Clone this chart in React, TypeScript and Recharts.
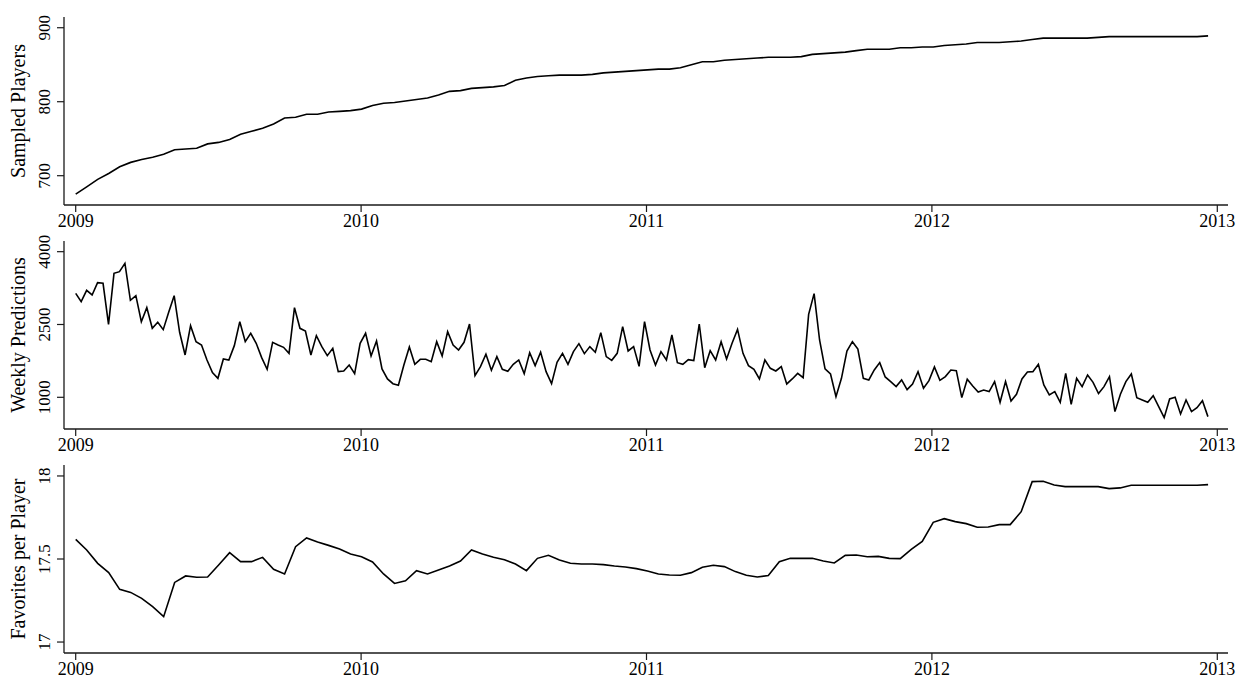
import React from "react";
import { Line, LineChart, XAxis, YAxis } from "recharts";

const FONT = "'Liberation Serif', 'Times New Roman', serif";
const START_YEAR = 2009;
const YEAR_TICKS = [2009, 2010, 2011, 2012, 2013];
// Slow series are sampled roughly every other week, ending in the last week of 2012.
const TWO_WEEKS = 14.07;

// Players in the sample, read every second week from the start of 2009.
const sampledPlayers = [
  675, 685, 695, 703, 712, 718, 722, 725, 729, 735, 736, 737, 743, 745, 749, 756,
  760, 764, 770, 778, 779, 783, 783, 786, 787, 788, 790, 795, 798, 799, 801, 803,
  805, 809, 814, 815, 818, 819, 820, 822, 829, 832, 834, 835, 836, 836, 836, 837,
  839, 840, 841, 842, 843, 844, 844, 846, 850, 854, 854, 856, 857, 858, 859, 860,
  860, 860, 861, 864, 865, 866, 867, 869, 871, 871, 871, 873, 873, 874, 874, 876,
  877, 878, 880, 880, 880, 881, 882, 884, 886, 886, 886, 886, 886, 887, 888, 888,
  888, 888, 888, 888, 888, 888, 888, 889,
];

// Predictions submitted per week.
const weeklyPredictions = [
  3142, 2970, 3204, 3108, 3362, 3348, 2503, 3554, 3588, 3760,
  2998, 3094, 2558, 2847, 2421, 2545, 2394, 2750, 3094, 2339,
  1872, 2476, 2146, 2078, 1769, 1508, 1391, 1789, 1769, 2064,
  2558, 2146, 2318, 2112, 1817, 1577, 2133, 2078, 2030, 1906,
  2847, 2421, 2366, 1872, 2270, 2044, 1858, 2009, 1529, 1542,
  1666, 1487, 2112, 2318, 1851, 2160, 1584, 1378, 1281, 1247,
  1666, 2037, 1680, 1783, 1783, 1735, 2146, 1851, 2352, 2078,
  1975, 2133, 2510, 1446, 1632, 1886, 1556, 1838, 1577, 1535,
  1680, 1769, 1487, 1920, 1652, 1927, 1529, 1281, 1721, 1906,
  1680, 1941, 2105, 1899, 2044, 1927, 2332, 1838, 1762, 1906,
  2455, 1954, 2044, 1638, 2558, 1975, 1666, 1941, 1769, 2284,
  1714, 1680, 1776, 1755, 2510, 1611, 1961, 1769, 2146, 1789,
  2112, 2400, 1906, 1652, 1577, 1378, 1769, 1597, 1542, 1632,
  1275, 1378, 1494, 1405, 2709, 3135, 2181, 1584, 1481, 1014,
  1391, 1954, 2146, 1995, 1391, 1357, 1563, 1714, 1419, 1323,
  1220, 1357, 1158, 1275, 1529, 1185, 1343, 1625, 1350, 1426,
  1563, 1549, 993, 1371, 1233, 1110, 1151, 1117, 1323, 897,
  1323, 924, 1062, 1378, 1522, 1529, 1680, 1254, 1048, 1117,
  897, 1494, 856, 1391, 1220, 1460, 1309, 1076, 1220, 1426,
  705, 1062, 1323, 1481, 993, 945, 897, 1034, 808, 581,
  966, 1000, 657, 945, 705, 787, 931, 602,
];

// Average number of favorites per player, every second week.
const favoritesPerPlayer = [
  17.618, 17.554, 17.474, 17.418, 17.317, 17.299, 17.263, 17.213, 17.153, 17.359,
  17.398, 17.39, 17.392, 17.464, 17.538, 17.484, 17.484, 17.51, 17.438, 17.41,
  17.574, 17.627, 17.602, 17.582, 17.56, 17.53, 17.514, 17.482, 17.41, 17.353,
  17.369, 17.43, 17.41, 17.434, 17.458, 17.488, 17.554, 17.53, 17.51, 17.496,
  17.47, 17.43, 17.504, 17.522, 17.494, 17.474, 17.47, 17.47, 17.466, 17.458,
  17.452, 17.442, 17.428, 17.41, 17.404, 17.402, 17.418, 17.45, 17.462, 17.454,
  17.424, 17.402, 17.392, 17.4, 17.484, 17.504, 17.504, 17.504, 17.488, 17.476,
  17.522, 17.524, 17.514, 17.516, 17.504, 17.502, 17.558, 17.606, 17.721, 17.743,
  17.725, 17.713, 17.691, 17.693, 17.707, 17.707, 17.785, 17.966, 17.968, 17.946,
  17.936, 17.936, 17.936, 17.936, 17.924, 17.928, 17.944, 17.944, 17.944, 17.944,
  17.944, 17.944, 17.944, 17.948,
];

const sampledTicks = [700, 800, 900];
const predictionTicks = [1000, 2500, 4000];
const favoriteTicks = [17, 17.5, 18];

type Point = { t: number; v: number };

// Turn a list of values into (fractional year, value) points.
function toSeries(values: number[], stepDays: number): Point[] {
  return values.map((v, i) => ({ t: START_YEAR + (i * stepDays) / 365.25, v }));
}

function RotatedTick(props: any) {
  const { x, y, payload } = props;
  return (
    <text
      x={x}
      y={y}
      transform={`rotate(-90 ${x} ${y})`}
      textAnchor="middle"
      fontSize={17}
      fontFamily={FONT}
      fill="#000"
    >
      {payload.value}
    </text>
  );
}

function YTitle(props: any) {
  const { viewBox, value } = props;
  const cy = viewBox.y + viewBox.height / 2;
  const x = 25;
  return (
    <text
      x={x}
      y={cy}
      transform={`rotate(-90 ${x} ${cy})`}
      textAnchor="middle"
      fontSize={20}
      fontFamily={FONT}
      fill="#000"
    >
      {value}
    </text>
  );
}

type Panel = {
  title: string;
  data: Point[];
  domain: [number, number];
  ticks: number[];
  top: number;
};

const panels: Panel[] = [
  { title: "Sampled Players", data: toSeries(sampledPlayers, TWO_WEEKS), domain: [660.4, 914.5], ticks: sampledTicks, top: 0 },
  { title: "Weekly Predictions", data: toSeries(weeklyPredictions, 7), domain: [347, 4220], ticks: predictionTicks, top: 224 },
  { title: "Favorites per Player", data: toSeries(favoritesPerPlayer, TWO_WEEKS), domain: [16.934, 18.066], ticks: favoriteTicks, top: 448 },
];

const AXIS_COLOR = "#1a1a1a";

function PanelChart({ panel }: { panel: Panel }) {
  return (
    <div style={{ position: "absolute", left: 0, top: panel.top }}>
      <LineChart width={1237} height={231} data={panel.data} margin={{ top: 17, right: 9, bottom: 7, left: 0 }}>
        <XAxis
          dataKey="t"
          type="number"
          domain={[2008.959, 2013.0375]}
          ticks={YEAR_TICKS}
          interval={0}
          height={19}
          tickSize={7}
          tickMargin={2}
          axisLine={{ stroke: AXIS_COLOR, strokeWidth: 1.3 }}
          tickLine={{ stroke: AXIS_COLOR, strokeWidth: 1.2 }}
          tick={{ fill: "#000", fontSize: 18, fontFamily: FONT }}
          tickFormatter={(v: number) => String(v)}
        />
        <YAxis
          type="number"
          domain={panel.domain}
          ticks={panel.ticks}
          interval={0}
          width={64}
          tickSize={7}
          tickMargin={7}
          axisLine={{ stroke: AXIS_COLOR, strokeWidth: 1.3 }}
          tickLine={{ stroke: AXIS_COLOR, strokeWidth: 1.2 }}
          tick={<RotatedTick />}
          label={{ value: panel.title, content: <YTitle /> }}
        />
        <Line
          type="linear"
          dataKey="v"
          stroke="#000"
          strokeWidth={1.6}
          dot={false}
          activeDot={false}
          isAnimationActive={false}
        />
      </LineChart>
    </div>
  );
}

export default function App() {
  return (
    <div style={{ position: "absolute", left: 0, top: 0, width: 1237, height: 679, background: "#fff" }}>
      {panels.map((p) => (
        <PanelChart key={p.title} panel={p} />
      ))}
    </div>
  );
}
